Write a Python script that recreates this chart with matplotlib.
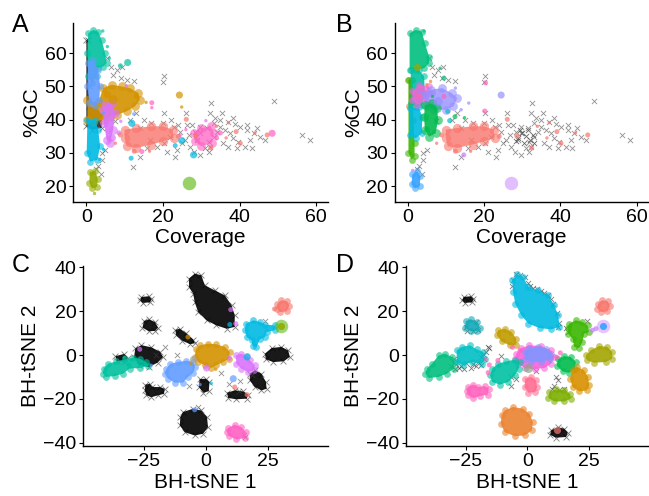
import matplotlib
matplotlib.use("Agg")
import matplotlib.pyplot as plt

plt.rcParams["font.family"] = ["Liberation Sans", "DejaVu Sans"]

# ---------------- panel A / B : coverage vs %GC ----------------
# cluster outlines (coverage, %GC)
A_black_strip = [(0.0, 64), (0.4, 64), (0.6, 50), (0.8, 44), (2.5, 43.5), (4.2, 41.5), (4.0, 37.5), (1.5, 37), (0.0, 38)]
A_teal = [(0.5, 66.0), (1.8, 67.0), (3.1, 66.5), (4.0, 64.0), (4.9, 60), (5.3, 57), (4.4, 56), (3.1, 55.5), (2.7, 53), (1.4, 51), (0.5, 53), (0.3, 60)]
A_blue = [(0.5, 57), (1.8, 58), (3.1, 55), (3.6, 50), (3.4, 46), (2.3, 44), (0.8, 45), (0.3, 50)]
A_gold = [(0.3, 46), (3.1, 45), (4.4, 49.5), (6.6, 50.5), (9.2, 50), (11.4, 49.5), (13.6, 48), (14, 46), (12.7, 44),
          (10.5, 42.5), (7.9, 41.4), (6.2, 40.9), (4.4, 40), (1.8, 39.4), (0.3, 40)]
A_violet = [(4.9, 44.5), (6.6, 45), (7.5, 42), (7.0, 37), (6.2, 33), (5.3, 34), (4.6, 39), (4.4, 43)]
A_cyan = [(0.3, 40), (2.3, 40), (3.1, 37), (3.6, 32), (2.9, 27.9), (1, 27.4), (0.1, 30)]
A_olive = [(0.9, 24.3), (2.4, 24.5), (3.0, 22), (2.8, 19.8), (1.5, 19.3), (0.8, 21)]
A_salmon = [(10, 37), (13, 37.5), (17, 38), (20, 38), (22.5, 37), (22.8, 34.5), (20, 33.5), (17, 32.5), (13, 31.5), (10.5, 32), (10, 34.5)]
A_pink = [(28, 36), (30, 37.5), (32.5, 38), (33.3, 36), (32.8, 33), (30, 32), (28.3, 33.5)]

B_orange_strip = [(0.3, 52), (1.2, 52), (1.4, 44), (0.3, 44)]
B_green_strip = [(0.2, 52), (1.2, 52), (1.5, 40), (1.8, 33), (1.8, 29), (1.0, 28), (0.2, 30)]
B_teal_top = [(0.5, 66), (2.1, 67), (3.7, 66.5), (4.5, 63), (5.6, 59), (5.6, 57), (4.3, 55.5), (2.1, 55), (0.5, 55)]
B_teal2 = [(0.8, 55), (2.9, 55), (4.3, 53), (4.5, 48), (3.8, 44.4), (2.1, 43.7), (0.8, 45)]
B_cyan = [(0.5, 43.4), (2.9, 43.7), (3.8, 40.9), (3.7, 35.9), (2.1, 34.4), (0.5, 35.4)]
B_green = [(4.5, 44.4), (6.4, 44.9), (7.7, 43.4), (8.0, 39.9), (7.3, 35.9), (5.6, 34.9), (4.5, 36.9), (4.3, 40.9)]
B_pink = [(1.2, 48.5), (3, 50.5), (5.5, 50), (6.5, 48), (5, 45.5), (2.5, 44.5), (1.2, 46)]
B_peri = [(4, 47.5), (6, 49), (9, 49.5), (11.5, 48), (13, 46.5), (12, 44), (10, 43), (7, 43), (5, 44)]
B_blue = [(1.2, 23.5), (2.5, 24.5), (3.3, 23), (3.2, 20), (2, 19.3), (1, 20.5)]

# single contigs (coverage, %GC, length class)
A_teal_dots = [(10.8, 57.2, 3), (8.9, 56.2, 2), (4.3, 66.7, 1), (5.5, 62, 1), (6, 58.5, 1)]
A_gold_dots = [(24.3, 47.4, 3), (24.9, 43.8, 1), (15.6, 45.2, 1), (7, 46, 4), (5.5, 47.5, 3), (13, 47, 2)]
A_violet_dots = [(10.5, 50.2, 1), (31.2, 39.7, 1), (6.8, 34.5, 3), (8.5, 36, 2), (9, 39.5, 1)]
A_blue_dots = [(12.4, 41.7, 1), (4.5, 42, 1)]
A_cyan_dots = [(11.9, 38.9, 3), (11.7, 28.4, 2), (23.2, 32.2, 2), (24.9, 33.7, 3), (28.0, 29.4, 3), (4.5, 31, 1), (3.5, 28, 1)]
A_olive_dots = [(1.9, 17.8, 1)]
salmon_dots = [(26.1, 40.1, 2), (28.6, 35.1, 2), (37.1, 39.1, 1), (39.1, 36.4, 2), (40.2, 32.9, 2), (47.2, 35.4, 2),
               (8.9, 35.4, 2), (7.6, 32.9, 1), (24, 35, 2), (32.5, 31.5, 2), (34, 38, 1), (12.5, 30.5, 2),
               (16.5, 30.5, 1), (44, 36, 1), (36.5, 34.5, 1)]
A_pink_dots = [(48.5, 35.9, 3), (17.1, 45.1, 2), (17.1, 43.6, 1), (14.5, 30.4, 2), (24.5, 35.3, 1), (26, 37, 1), (34, 34.5, 2), (35, 36, 2)]
A_green_big = [(26.9, 21.0, 5)]

B_peri_dots = [(24.5, 47.4, 3), (16, 45, 1), (8, 45.5, 4), (12.5, 49.5, 1), (14, 43, 1)]
B_pink_dots = [(20.4, 51.1, 2), (20.2, 42.6, 2), (9.5, 47, 2), (3, 47, 3)]
B_purple_dots = [(14.7, 29.4, 2), (1.3, 24.7, 1)]
B_purple_big = [(27.2, 21.0, 5)]
B_cyan_dots = [(11, 39.7, 2), (10.5, 42.5, 2)]
B_green_dots = [(12.4, 40.9, 2), (14.9, 40.6, 1), (5, 37, 2), (6.5, 47, 1)]
B_teal_dots = [(9.5, 52.5, 2), (4.3, 66.7, 1), (8.5, 55.5, 1)]
B_olive_dots = [(2.5, 56, 3)]
B_orange_dots = [(5, 50.5, 1), (6, 51.5, 1)]

# unbinned contigs (coverage, %GC)
cov_x = [(22.8, 37.9), (24.5, 36.4), (25.8, 33.9), (27.1, 31.9), (28.0, 30.4), (29.7, 29.4), (31.0, 31.4), (31.9, 33.4),
         (33.2, 34.9), (34.1, 36.4), (35.0, 37.9), (36.3, 36.9), (37.6, 35.9), (38.4, 34.4), (39.7, 33.4), (41.5, 31.9),
         (42.8, 33.9), (43.7, 35.9), (44.5, 37.4), (45.4, 34.9), (46.7, 33.9), (41.9, 36.9), (40.2, 37.9), (38.9, 38.7),
         (37.1, 39.4), (35.0, 39.9), (33.2, 38.9), (31.5, 37.4), (29.7, 37.9), (28.4, 36.4), (26.7, 35.4), (25.0, 32.9),
         (23.7, 30.9), (21.9, 34.9), (20.2, 32.9), (18.4, 31.9), (16.7, 33.9), (15.8, 31.4), (14.1, 28.9), (32.3, 31.9),
         (35.8, 32.9), (37.1, 31.9), (39.3, 31.4), (43.2, 31.4), (33.7, 40.4), (35.4, 41.9), (38.4, 40.4), (41.9, 38.4),
         (23.2, 28.9), (21.0, 30.4), (26.3, 38.4), (28.9, 33.9), (29.7, 35.9), (31.9, 30.4),
         (20.3, 53.2), (20.0, 51.2), (32.6, 45.1), (48.9, 45.6), (56.3, 35.4), (58.4, 34), (32.4, 42.1), (12.3, 25.8),
         (3.8, 23.6), (20.2, 42.1), (5.5, 58.5), (6.5, 56), (8, 55), (9.3, 55.8), (7, 53.5), (9, 52.5), (10.5, 51.8),
         (12.5, 51.5), (5, 31), (4, 28), (3, 26), (2.5, 25), (4, 30), (7.5, 39.5), (11.5, 40), (13, 42), (15, 40),
         (17, 39), (20, 39), (22, 40), (14, 37.5), (24, 38.5), (26, 42), (27.5, 38.5)]
B_extra_x = [(29, 34.5), (30, 36), (31, 35), (32, 34), (30.5, 33), (29.5, 37), (31.5, 36.8), (32.8, 35.5), (28.5, 33.5), (33, 33)]

# ---------------- panel C / D : BH-tSNE ----------------
C_black_top = [(-6.8, 34.9), (-4.5, 37.1), (-1.8, 36.4), (-0.4, 31.8), (3.6, 29.5), (7.7, 27.2), (10.4, 22.7), (11.7, 18.1),
               (11.7, 12.8), (8.4, 12.0), (4.3, 13.5), (0.3, 15.8), (-3.1, 19.6), (-4.5, 24.2), (-5.1, 28.0), (-6.8, 31.0)]
C_black_a = [(-26, 26.5), (-23, 26.8), (-22, 25.5), (-22.5, 24), (-25.5, 23.8), (-26.5, 25)]
C_black_b = [(-25, 15.5), (-23, 16.3), (-20.5, 15), (-19.3, 12.5), (-20.5, 11), (-23, 10.8), (-25.6, 12.5)]
C_black_c = [(-12.3, 11.5), (-10.5, 12), (-8, 10), (-5, 7), (-4.5, 5.3), (-6.5, 5), (-9.5, 6.5), (-12, 9)]
C_black_d = [(-28.5, 3), (-26, 4.5), (-22, 3.5), (-18.5, 1.5), (-17.3, -1), (-19.5, -3.5), (-23, -5.5), (-27, -4.5), (-29, -1)]
C_black_d2 = [(-36.5, -0.5), (-33, 0.5), (-31.5, -1.5), (-33, -3), (-36, -2.8)]
C_black_e = [(23.9, 0.6), (26.6, 3.2), (30.6, 3.7), (33.3, 2.1), (34.0, -0.9), (31.3, -2.9), (27.3, -3.2), (24.3, -2.0)]
C_black_f = [(17.8, -8.5), (19.8, -7.0), (22.5, -8.5), (24.3, -12.3), (24.6, -15.4), (22.5, -16.1), (19.8, -14.6), (17.8, -11.6)]
C_black_g = [(8.6, -17.2), (11.7, -16.1), (15.1, -16.6), (17.1, -18.1), (16.5, -19.9), (12.4, -20.2), (9.0, -19.6)]
C_black_h = [(-2.5, -11), (0, -10.8), (1.5, -12.5), (1.2, -16.5), (-1, -17.2), (-2.8, -14.5)]
C_black_i = [(-24.4, -13.5), (-22.7, -13.1), (-21.7, -14.6), (-18.6, -14.6), (-16.6, -15.4), (-16.9, -17.7), (-19.3, -18.4),
             (-22.0, -19.2), (-24.0, -18.4), (-24.7, -16.1)]
C_black_j = [(-9.2, -26.0), (-5.1, -24.5), (-1.8, -25.3), (0.5, -28.3), (0.9, -32.9), (-1.1, -35.9), (-4.5, -36.7),
             (-8.5, -35.2), (-10.5, -32.1), (-10.3, -28.3)]
C_teal = [(-41.3, -6.2), (-39.5, -4.0), (-36.2, -2.9), (-32.8, -2.0), (-29.4, -1.2), (-26.7, -1.7), (-24.0, -3.2),
          (-23.3, -5.0), (-26.7, -5.9), (-30.8, -6.2), (-33.5, -8.5), (-36.8, -9.6), (-40.2, -10.0), (-41.6, -8.5)]
C_blue = [(-15.9, -6.2), (-14.3, -4.0), (-11.2, -3.2), (-7.8, -2.6), (-5.1, -3.2), (-4.3, -5.5), (-5.1, -8.1), (-7.2, -10.0),
          (-9.2, -12.6), (-12.6, -12.6), (-15.2, -10.8), (-16.6, -8.5)]
C_gold = [(-4.0, 2.6), (-2.4, 4.4), (0.9, 5.2), (4.3, 4.9), (7.7, 3.7), (9.7, 1.4), (9.4, -1.7), (7.0, -3.2), (4.3, -4.7),
          (2.3, -5.9), (-0.4, -4.7), (-3.1, -3.2), (-4.5, -0.9)]
C_violet = [(12.1, -0.2), (14.4, 0.6), (16.5, -0.5), (17.8, -2.4), (19.8, -4.7), (19.4, -7.0), (17.1, -7.8), (14.4, -6.2), (12.4, -4.0)]
C_pink = [(9.0, -33.3), (11.7, -31.8), (14.4, -32.9), (16.2, -35.2), (15.8, -37.9), (12.4, -38.5), (9.4, -37.0), (8.4, -34.9)]
C_salmon = [(28.9, 23.4), (30.6, 25.0), (32.9, 24.5), (33.7, 22.4), (32.7, 19.9), (30.2, 19.6), (28.6, 21.2)]
C_cyan = [(16.2, 14.3), (19.2, 15.8), (21.9, 15.1), (23.9, 13.9), (27.9, 13.5), (27.9, 11.3), (24.6, 10.5), (23.9, 8.2),
          (21.9, 7.2), (20.5, 3.7), (18.9, 4.1), (18.5, 6.7), (16.5, 8.2), (15.8, 11.3)]

C_violet_dots = [(10.1, 20.7, 2), (12.1, 14.3, 2), (-26.7, 2.6, 2), (0.3, -5.9, 3), (9.5, -1.5, 2)]
C_cyan_dots = [(9.7, 13.9, 2), (16.7, -0.9, 3), (2.2, -12.9, 1)]
C_blue_dots = [(11.1, -10.8, 3), (-4.5, -25.0, 2), (-2.3, -13.5, 1), (-22, -4.7, 1)]
C_salmon_dots = [(11.7, -14.6, 2), (16.7, -18.1, 2), (27.8, 21.0, 2)]
C_gold_dots = [(-7.2, 8.2, 2), (4, -6.5, 1), (-6, -4, 1)]
C_teal_dots = [(-31, -4.5, 2), (-33, -1, 1)]
C_grey_dots = [(-5.1, -1.7, 3)]
C_green_big = [(30.6, 13.2, 5)]
C_olive_dots = [(30.6, 13.2, 3)]
C_x = [(23.9, 15.4), (-16.6, 3.5), (-11.6, -0.2), (-6.7, -14.3), (9.3, -13.1), (-20, 0), (6, -8), (18.5, -9), (14, -12),
       (13.5, -16.5), (15.5, -36.5), (16, -37.5), (-3, -23.8)]

D_cyan_top = [(-6.2, 34.1), (-4.2, 36.8), (-1.8, 35.6), (0.5, 31.1), (4.3, 29.5), (8.4, 27.5), (10.8, 23.0), (12.7, 18.1),
              (13.1, 12.8), (9.7, 11.7), (5.0, 12.3), (0.5, 14.3), (-2.4, 18.1), (-4.9, 23.4), (-5.8, 28.8)]
D_teal_b = [(-25, 15.5), (-23, 16.3), (-20.5, 15), (-19.3, 12.5), (-20.5, 11), (-23, 10.8), (-25.6, 12.5)]
D_gold = [(-11.9, 11.3), (-9.2, 12.0), (-6.5, 10.5), (-4.5, 7.5), (-4.5, 4.7), (-7.2, 4.4), (-10.5, 6.2), (-12.4, 9.0)]
D_mint = [(-40.9, -6.2), (-38.9, -4.0), (-36.2, -0.2), (-33.5, 0.6), (-30.8, -0.9), (-29.4, -3.2), (-30.1, -6.2),
          (-32.8, -8.5), (-36.2, -10.0), (-40.2, -10.5), (-41.6, -8.5)]
D_tealcyan = [(-28.8, 2.1), (-26.7, 3.7), (-23.4, 4.4), (-20.7, 2.6), (-18.0, 1.4), (-17.3, -1.7), (-18.6, -4.0),
              (-22.7, -3.2), (-26.1, -4.7), (-28.8, -3.2)]
D_teal_mid = [(-14.3, -6.2), (-11.9, -4.0), (-8.5, -2.9), (-5.1, -2.1), (-3.1, -3.2), (-3.5, -6.2), (-5.1, -9.3),
              (-7.8, -12.3), (-11.2, -13.5), (-14.3, -12.3), (-15.2, -9.3)]
D_pink_mid = [(-4.5, 0.6), (-2.4, 3.2), (0.9, 4.4), (5.7, 4.1), (9.7, 2.1), (11.1, -0.9), (9.7, -4.0), (7.0, -5.9),
              (3.0, -6.5), (-1.1, -5.9), (-3.8, -4.0), (-4.9, -1.7)]
D_peri = [(-1.1, 1.4), (0.9, 3.3), (4.3, 3.7), (7.7, 2.9), (9.7, 0.6), (9.4, -2.0), (5.7, -3.2), (1.6, -3.2), (-0.8, -1.7)]
D_rose = [(-0.8, -10.8), (1.6, -10.0), (3.6, -11.6), (4.0, -14.6), (3.2, -16.9), (0.5, -17.2), (-1.1, -14.6)]
D_pink_low = [(-24.3, -14.6), (-22.0, -13.5), (-20.0, -14.6), (-17.3, -14.2), (-15.7, -15.4), (-16.2, -18.1),
              (-19.3, -18.7), (-22.0, -19.6), (-24.0, -18.4), (-24.7, -16.6)]
D_green1 = [(12.4, -2.0), (15.1, -0.5), (17.8, -0.9), (19.8, -3.2), (19.4, -6.2), (17.1, -8.1), (14.4, -7.5), (12.1, -5.0)]
D_orange = [(18.5, -7.0), (20.5, -5.5), (23.2, -7.0), (24.8, -10.0), (25.3, -13.9), (24.3, -16.1), (21.2, -16.6),
            (18.5, -14.6), (17.5, -10.8)]
D_green2 = [(9.0, -16.9), (11.7, -15.7), (15.1, -16.1), (17.5, -17.7), (17.8, -19.9), (15.1, -21.2), (11.1, -21.2), (8.6, -19.6)]
D_olive = [(23.9, -0.2), (25.9, 2.1), (29.3, 4.1), (32.7, 3.7), (34.7, 1.4), (34.7, -1.7), (32.0, -3.2), (27.3, -3.5), (24.3, -2.4)]
D_green3 = [(17.1, 14.3), (19.8, 15.8), (22.5, 15.1), (24.6, 13.5), (25.2, 10.5), (23.2, 9.7), (22.5, 5.9), (21.2, 3.2),
            (19.2, 3.7), (18.5, 7.5), (16.7, 9.7), (16.5, 12.3)]
D_orange_low = [(-9.2, -25.3), (-5.8, -23.7), (-1.8, -24.5), (0.9, -26.8), (2.3, -30.6), (1.9, -34.4), (-1.1, -36.7),
                (-5.1, -37.0), (-9.2, -35.2), (-10.8, -31.4), (-10.5, -27.5)]
D_black_low = [(9.7, -34.4), (12.4, -32.9), (15.1, -33.6), (16.5, -35.5), (15.8, -37.4), (11.7, -37.7), (9.3, -36.4)]

D_pink_dots = [(-16, -8, 2), (-15.5, -4.5, 2), (-17, -2, 1), (-12, -2.5, 2), (-6, 3.5, 2), (-3, 2, 2), (12, -1, 2), (13.5, 1, 2)]
D_salmon_dots = [(12.0, -34.4, 3)]
D_purple_big = [(30.9, 13.2, 5)]
D_blue_dots = [(30.9, 13.2, 3)]
D_purple_dots = [(26.6, 11.3, 2), (28, 12, 2)]
D_mix_dots = [(0.5, -5.9, 4)]
D_x = [(-4.5, 37), (-3, 36.5), (-1, 35.8), (0.5, 33), (1, 31.5), (2.5, 30.5), (4, 30), (5.5, 29.2), (7, 28.5), (8.3, 27.5),
       (9.5, 25.5), (10.6, 23.3), (12, 19), (13, 14.5), (12.5, 13), (-5.8, 34), (-6.3, 31.5), (24.3, 15.4), (-16.2, 3.5),
       (-10.8, -0.5), (-6.5, -10), (-4.5, -11.1), (-6.5, -14.3), (11.7, -10), (12.4, -11.6), (11, -14), (13, -16), (15, -15.5),
       (10, -15.5), (3.6, -7.5), (16.5, 10.5), (16, 12.5), (-25, 13), (-21, 15), (-20, 11.5), (-24.5, 11), (-22, 10.8),
       (-30, -2), (-29, -4), (-28, -6), (-27, -5), (-31, -5), (-26, -6.5), (-22, -4), (-20, -3), (-19, -1), (-18, 0.5),
       (-17.5, -2), (-21, -5), (-19, -4.5), (-23, -6), (-25, -3.5), (-29.5, -6.5), (-17, 1.5), (-15.5, 3)]

# ggplot hue colours
SALMON, GOLD, OLIVE9, GREEN9, TEAL9, CYAN9, BLUE9, VIOLET9, PINK9 = (
    "#F8766D", "#D39200", "#93AA00", "#00BA38", "#00C19F", "#00B9E3", "#619CFF", "#DB72FB", "#FF61C3")
SIZES = {1: 6, 2: 13, 3: 26, 4: 42, 5: 95}


def blob(ax, pts, color, alpha=0.9, s=24):
    xs = [p[0] for p in pts]
    ys = [p[1] for p in pts]
    ax.fill(xs, ys, color=color, alpha=alpha, lw=0, zorder=2)
    ax.scatter(xs, ys, s=s, color=color, alpha=0.6, lw=0, zorder=2)


def xblob(ax, pts, alpha=0.9):
    xs = [p[0] for p in pts]
    ys = [p[1] for p in pts]
    ax.fill(xs, ys, color="black", alpha=alpha, lw=0, zorder=1)
    ax.scatter(xs, ys, marker="x", s=18, color="black", lw=0.6, alpha=0.5, zorder=1)


def dots(ax, pts, color, alpha=0.7):
    ax.scatter([p[0] for p in pts], [p[1] for p in pts], s=[SIZES[p[2]] for p in pts],
               color=color, alpha=alpha, lw=0, zorder=3)


def crosses(ax, pts, color="#444444", alpha=0.6):
    ax.scatter([p[0] for p in pts], [p[1] for p in pts], marker="x", s=14,
               color=color, lw=0.6, alpha=alpha, zorder=1)


def style(ax, xlabel, ylabel):
    for sp in ("top", "right"):
        ax.spines[sp].set_visible(False)
    for sp in ("left", "bottom"):
        ax.spines[sp].set_linewidth(1.0)
    ax.tick_params(direction="out", length=3, width=0.8, labelsize=14, pad=2)
    ax.set_xlabel(xlabel, fontsize=15, labelpad=2)
    ax.set_ylabel(ylabel, fontsize=15, labelpad=2)


fig = plt.figure(figsize=(6.49, 4.96), dpi=100)
axA = fig.add_axes([0.1129, 0.5933, 0.392, 0.3597])
axB = fig.add_axes([0.6082, 0.5933, 0.3903, 0.3597])
axC = fig.add_axes([0.1284, 0.1008, 0.3766, 0.3629])
axD = fig.add_axes([0.6256, 0.1008, 0.3729, 0.3629])

# ---- A ----
crosses(axA, cov_x)
xblob(axA, A_black_strip, alpha=0.75)
blob(axA, A_teal, TEAL9)
blob(axA, A_gold, GOLD, s=40)
blob(axA, A_blue, BLUE9)
blob(axA, A_violet, VIOLET9, s=40)
blob(axA, A_cyan, CYAN9)
blob(axA, A_olive, OLIVE9)
blob(axA, A_salmon, SALMON, alpha=0.8, s=45)
blob(axA, A_pink, PINK9, alpha=0.75, s=40)
dots(axA, A_teal_dots, TEAL9)
dots(axA, A_gold_dots, GOLD)
dots(axA, A_violet_dots, VIOLET9)
dots(axA, A_blue_dots, BLUE9)
dots(axA, A_cyan_dots, CYAN9)
dots(axA, A_olive_dots, OLIVE9)
dots(axA, salmon_dots, SALMON)
dots(axA, A_pink_dots, PINK9)
dots(axA, A_green_big, "#53B400", alpha=0.6)

# ---- B ----
crosses(axB, cov_x)
crosses(axB, B_extra_x, alpha=0.8)
blob(axB, B_orange_strip, "#EA8331")
blob(axB, B_green_strip, "#39B600")
blob(axB, B_teal_top, "#00BF7D")
blob(axB, B_teal2, "#00C1A3")
blob(axB, B_cyan, "#00BAE0")
blob(axB, B_pink, "#FA62DB", alpha=0.8)
blob(axB, B_peri, "#9590FF", alpha=0.8, s=40)
blob(axB, B_green, "#00BB4E", s=40)
blob(axB, B_blue, "#35A2FF")
blob(axB, A_salmon, SALMON, alpha=0.8, s=45)
dots(axB, salmon_dots, SALMON)
dots(axB, B_peri_dots, "#9590FF")
dots(axB, B_pink_dots, "#FF62BC")
dots(axB, B_purple_dots, "#C77CFF")
dots(axB, B_purple_big, "#C77CFF", alpha=0.5)
dots(axB, B_cyan_dots, "#00BFC4")
dots(axB, B_green_dots, "#00BB4E")
dots(axB, B_teal_dots, "#00BF7D")
dots(axB, B_olive_dots, "#A3A500")
dots(axB, B_orange_dots, "#EA8331")

for ax in (axA, axB):
    ax.set_xlim(-3.4, 63)
    ax.set_ylim(15.3, 69)
    ax.set_xticks([0, 20, 40, 60])
    ax.set_yticks([20, 30, 40, 50, 60])
    style(ax, "Coverage", "%GC")

# ---- C ----
for poly in (C_black_top, C_black_a, C_black_b, C_black_c, C_black_d, C_black_d2, C_black_e,
             C_black_f, C_black_g, C_black_h, C_black_i, C_black_j):
    xblob(axC, poly)
crosses(axC, C_x)
blob(axC, C_teal, TEAL9)
blob(axC, C_blue, BLUE9)
blob(axC, C_gold, GOLD)
blob(axC, C_violet, VIOLET9)
blob(axC, C_pink, PINK9)
blob(axC, C_salmon, SALMON)
blob(axC, C_cyan, CYAN9)
dots(axC, C_violet_dots, VIOLET9)
dots(axC, C_cyan_dots, CYAN9)
dots(axC, C_blue_dots, BLUE9)
dots(axC, C_salmon_dots, SALMON)
dots(axC, C_gold_dots, GOLD)
dots(axC, C_teal_dots, TEAL9)
dots(axC, C_grey_dots, "#A0A0A0")
dots(axC, C_green_big, "#53B400", alpha=0.55)
dots(axC, C_olive_dots, OLIVE9, alpha=0.9)

# ---- D ----
xblob(axD, C_black_a)
xblob(axD, D_black_low)
crosses(axD, D_x, color="#222222")
blob(axD, D_cyan_top, "#00BAE0")
blob(axD, D_teal_b, "#12A9B8")
blob(axD, D_gold, "#C09B00")
blob(axD, D_mint, "#00BF7D")
blob(axD, D_tealcyan, "#00BFC4")
blob(axD, D_pink_mid, "#FA62DB")
blob(axD, D_peri, "#7F96FF")
blob(axD, D_teal_mid, "#00C1A3")
blob(axD, D_rose, "#FF6C91")
blob(axD, D_pink_low, "#FF62BC")
blob(axD, D_green1, "#00BB4E")
blob(axD, D_orange, "#D89000")
blob(axD, D_green2, "#7CAE00")
blob(axD, D_olive, "#A3A500")
blob(axD, D_green3, "#39B600")
blob(axD, C_salmon, SALMON)
blob(axD, D_orange_low, "#EA8331")
dots(axD, D_pink_dots, "#FF62BC")
dots(axD, D_salmon_dots, SALMON)
dots(axD, D_purple_big, "#C77CFF", alpha=0.45)
dots(axD, D_blue_dots, "#35A2FF", alpha=0.9)
dots(axD, D_purple_dots, "#C77CFF")
dots(axD, D_mix_dots, "#8BA888")

for ax in (axC, axD):
    ax.set_xlim(-49.5, 49.3)
    ax.set_ylim(-41.5, 40.6)
    ax.set_xticks([-25, 0, 25])
    ax.set_yticks([-40, -20, 0, 20, 40])
    ax.set_xticklabels(["\u221225", "0", "25"])
    ax.set_yticklabels(["\u221240", "\u221220", "0", "20", "40"])
    style(ax, "BH-tSNE 1", "BH-tSNE 2")

for lab, x, y in (("A", 0.018, 0.95), ("B", 0.517, 0.95), ("C", 0.018, 0.465), ("D", 0.517, 0.465)):
    fig.text(x, y, lab, fontsize=18, ha="left", va="center")

fig.savefig("out.png", dpi=100)
